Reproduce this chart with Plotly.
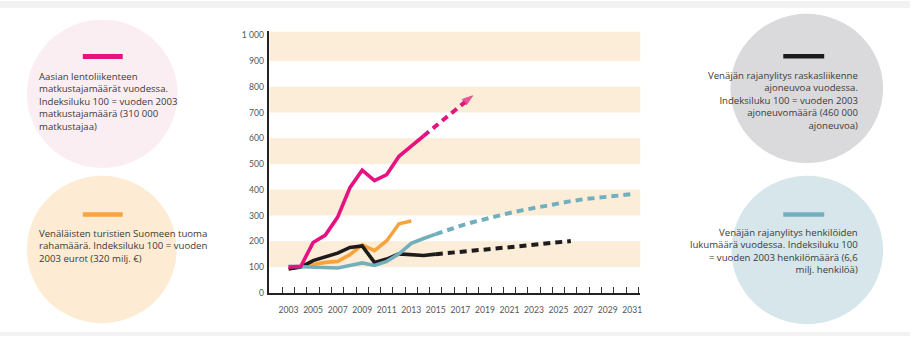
import plotly.graph_objects as go

# ---------------- data ----------------
years_air = list(range(2003, 2015))
air_pass = [100, 103, 195, 224, 294, 408, 476, 436, 459, 530, 570, 609]
years_air_proj = list(range(2014, 2019))
air_pass_proj = [609, 649, 689, 729, 765]

years_tour = list(range(2003, 2014))
tourist_money = [100, 102, 110, 118, 122, 148, 186, 164, 202, 268, 279]

years_heavy = list(range(2003, 2016))
heavy_vehicles = [92, 100, 125, 141, 154, 176, 182, 118, 131, 151, 148, 145, 150]
years_heavy_proj = list(range(2015, 2027))
heavy_vehicles_proj = [150, 154, 159, 163, 168, 173, 177, 182, 187, 191, 196, 201]

years_pers = list(range(2003, 2016))
persons = [103, 101, 98, 96, 96, 106, 116, 106, 122, 151, 192, 211, 228]
years_pers_proj = list(range(2015, 2032))
persons_proj = [228, 245, 260, 274, 287, 299, 310, 320, 330, 339, 348, 356, 363, 369, 374, 379, 383]

x_tick_years = list(range(2003, 2032, 2))
y_tick_vals = [0, 100, 200, 300, 400, 500, 600, 700, 800, 900, 1000]
y_tick_text = ["0", "100", "200", "300", "400", "500", "600", "700", "800", "900", "1 000"]

band_ranges = [(100, 200), (300, 400), (500, 600), (700, 800), (900, 1015)]

text_air = ["Aasian lentoliikenteen", "matkustajamäärät vuodessa.",
            "Indeksiluku 100 = vuoden 2003", "matkustajamäärä (310 000", "matkustajaa)"]
text_tour = ["Venäläisten turistien Suomeen tuoma", "rahamäärä. Indeksiluku 100 = vuoden",
             "2003 eurot (320 milj. €)"]
text_heavy = ["Venäjän rajanylitys raskasliikenne", "ajoneuvoa vuodessa.",
              "Indeksiluku 100 = vuoden 2003", "ajoneuvomäärä (460 000", "ajoneuvoa)"]
text_pers = ["Venäjän rajanylitys henkilöiden", "lukumäärä vuodessa. Indeksiluku 100",
             "= vuoden 2003 henkilömäärä (6,6", "milj. henkilöä)"]

# ---------------- style ----------------
W, H = 912, 341
PINK = "#E5127F"
ORANGE = "#F8A43C"
BLACK = "#1E1B1C"
CYAN = "#72AFBD"
BAND = "#FCEDD8"
TXT = "#3a3a3a"
FONT = "Lato"
TFONT = "Open Sans"

def px(x):
    return x / W

def py(y):
    return 1 - y / H

fig = go.Figure()
DASH = "7px,5px"
SW = 3.6
DW = 4

fig.add_trace(go.Scatter(x=years_tour, y=tourist_money, mode="lines",
                         line=dict(color=ORANGE, width=SW), hoverinfo="skip"))
fig.add_trace(go.Scatter(x=years_heavy, y=heavy_vehicles, mode="lines",
                         line=dict(color=BLACK, width=SW), hoverinfo="skip"))
fig.add_trace(go.Scatter(x=years_heavy_proj, y=heavy_vehicles_proj, mode="lines",
                         line=dict(color=BLACK, width=DW, dash=DASH), hoverinfo="skip"))
fig.add_trace(go.Scatter(x=years_pers, y=persons, mode="lines",
                         line=dict(color=CYAN, width=SW), hoverinfo="skip"))
fig.add_trace(go.Scatter(x=years_pers_proj, y=persons_proj, mode="lines",
                         line=dict(color=CYAN, width=DW, dash=DASH), hoverinfo="skip"))
fig.add_trace(go.Scatter(x=years_air, y=air_pass, mode="lines",
                         line=dict(color=PINK, width=SW), hoverinfo="skip"))
fig.add_trace(go.Scatter(x=years_air_proj, y=air_pass_proj, mode="lines+markers",
                         line=dict(color=PINK, width=DW, dash=DASH),
                         marker=dict(symbol="arrow", angleref="previous",
                                     size=[0] * (len(years_air_proj) - 1) + [11],
                                     color=PINK, line=dict(width=1, color=PINK)),
                         hoverinfo="skip"))

shapes = []
shapes.append(dict(type="rect", xref="paper", yref="paper", x0=0, x1=1, y0=py(7), y1=1,
                   fillcolor="#F2F2F2", line=dict(width=0), layer="below"))
shapes.append(dict(type="rect", xref="paper", yref="paper", x0=0, x1=1, y0=0, y1=py(337),
                   fillcolor="#F2F2F2", line=dict(width=0), layer="below"))
for b0, b1 in band_ranges:
    shapes.append(dict(type="rect", xref="paper", yref="y", x0=px(270), x1=px(641.7),
                       y0=b0, y1=b1, fillcolor=BAND, line=dict(width=0), layer="below"))
circles = [
    (27, 19, 178, 170, "#FBEEF3"),
    (27, 178, 177, 328, "#FDEBD3"),
    (732, 13, 885, 165, "#DADADC"),
    (733, 178, 885, 329, "#D6E6EB"),
]
for x0, y0, x1, y1, c in circles:
    shapes.append(dict(type="circle", xref="paper", yref="paper",
                       x0=px(x0), x1=px(x1), y0=py(y1), y1=py(y0),
                       fillcolor=c, line=dict(width=0), layer="below"))
bars = [
    (83, 54, 123, 59, PINK),
    (83, 215, 123, 219.5, ORANGE),
    (785, 54, 826, 58.5, BLACK),
    (785, 215, 826, 219.5, CYAN),
]
for x0, y0, x1, y1, c in bars:
    shapes.append(dict(type="rect", xref="paper", yref="paper",
                       x0=px(x0), x1=px(x1), y0=py(y1), y1=py(y0),
                       fillcolor=c, line=dict(width=0), layer="below"))

annotations = []
blocks = [
    (text_air, 37, "left", 102),
    (text_tour, 37, "left", 249.2),
    (text_heavy, 862, "right", 101.4),
    (text_pers, 862, "right", 254.7),
]
for lines, xa, anchor, yc in blocks:
    annotations.append(dict(text="<br>".join(lines), x=px(xa), y=py(yc),
                            xanchor=anchor, yanchor="middle", align=anchor,
                            xref="paper", yref="paper", showarrow=False,
                            font=dict(family=TFONT, size=9.6, color=TXT)))

fig.update_layout(
    width=W, height=H,
    margin=dict(l=0, r=0, t=0, b=0),
    paper_bgcolor="white", plot_bgcolor="rgba(0,0,0,0)",
    showlegend=False,
    shapes=shapes,
    annotations=annotations,
    xaxis=dict(
        domain=[px(270), px(641.7)],
        range=[2001.44, 2031.66],
        tickmode="array", tickvals=x_tick_years, ticktext=[str(v) for v in x_tick_years],
        ticks="", showgrid=False, zeroline=False,
        showline=True, linecolor="#222", linewidth=1.5,
        tickfont=dict(family=FONT, size=8.6, color="#555"),
        ticklabelstandoff=8,
        minor=dict(tickmode="array", tickvals=[2002.5 + i for i in range(30)],
                   ticks="inside", ticklen=6, tickwidth=1, tickcolor="#333", showgrid=False),
        fixedrange=True,
    ),
    yaxis=dict(
        domain=[py(297), py(31)],
        range=[0, 1015],
        tickmode="array", tickvals=y_tick_vals, ticktext=y_tick_text,
        ticks="", showgrid=False, zeroline=False,
        showline=True, linecolor="#222", linewidth=1.5,
        tickfont=dict(family=FONT, size=8.6, color="#555"),
        ticklabelstandoff=2,
        fixedrange=True,
    ),
)

fig.write_html("out.html")
